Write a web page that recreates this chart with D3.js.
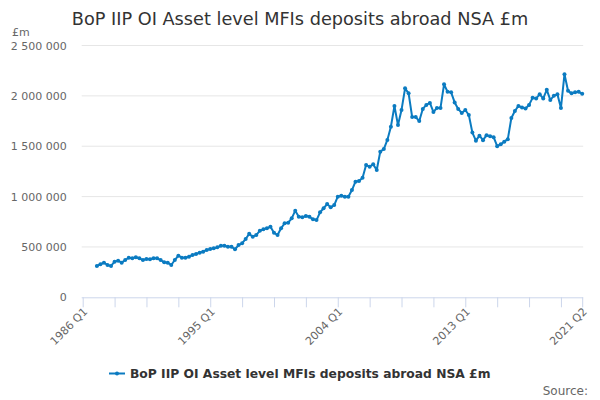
<!DOCTYPE html>
<html><head><meta charset="utf-8">
<script src="https://cdn.jsdelivr.net/npm/d3@7"></script>
<style>body{margin:0;background:#fff}svg{display:block;font-family:"DejaVu Sans",sans-serif}</style>
</head><body><svg id="c" width="600" height="400"></svg>
<script>
const titleText = "BoP IIP OI Asset level MFIs deposits abroad NSA £m";
const seriesName = "BoP IIP OI Asset level MFIs deposits abroad NSA £m";
const startYear = 1986, quarterCount = 142;
const categories = [];
for (let i = 0; i < quarterCount; i++) categories.push((startYear + Math.floor(i / 4)) + " Q" + (i % 4 + 1));
const values = [null,null,null,null,
311000,328000,344000,321000,311000,354000,364000,344000,370000,393000,
387000,397000,387000,370000,380000,377000,387000,387000,370000,347000,
344000,321000,370000,413000,393000,393000,403000,420000,430000,443000,
453000,470000,479000,486000,496000,512000,512000,502000,502000,477000,
519000,536000,579000,630000,602000,618000,661000,675000,685000,701000,
641000,618000,685000,735000,741000,784000,860000,800000,794000,807000,
800000,774000,767000,844000,884000,926000,893000,916000,999000,1009000,
999000,999000,1065000,1148000,1155000,1187000,1313000,1297000,1320000,1264000,
1446000,1472000,1562000,1694000,1899000,1710000,1860000,2075000,2025000,1790000,
1790000,1750000,1870000,1910000,1930000,1840000,1880000,1880000,2115000,2040000,
2035000,1935000,1870000,1830000,1860000,1810000,1635000,1555000,1605000,1560000,
1610000,1600000,1590000,1500000,1520000,1545000,1570000,1780000,1850000,1900000,
1885000,1875000,1910000,1980000,1975000,2015000,1975000,2060000,1960000,2000000,
2015000,1880000,2215000,2050000,2025000,2035000,2040000,2020000];
const yTicks = [0,500000,1000000,1500000,2000000,2500000];
const xTickLabels = ["1986 Q1","1995 Q1","2004 Q1","2013 Q1","2021 Q2"];
const tickEvery = 9;

const svg = d3.select("#c");
const L = 82.7, R = 582.2, T = 45.5, B = 297.3;
const x = d3.scalePoint().domain(categories).range([L, R]);
const y = d3.scaleLinear().domain([0, 2500000]).range([B, T]);
const fmt = v => d3.format(",")(v).replace(/,/g, " ");

svg.append("g").selectAll("line").data(yTicks.filter(d => d > 0)).join("line")
  .attr("x1", L - 1).attr("x2", R + 1).attr("y1", d => y(d)).attr("y2", d => y(d))
  .attr("stroke", "#e6e6e6").attr("stroke-width", 1);

const yAxis = d3.axisLeft(y).tickValues(yTicks).tickFormat(fmt).tickSize(0).tickPadding(16);
const gy = svg.append("g").attr("transform", `translate(${L},0)`).call(yAxis);
gy.select(".domain").remove();
gy.selectAll("text").attr("fill", "#666").attr("font-size", 11).attr("font-family", "DejaVu Sans");

const tickCats = categories.filter((d, i) => i % tickEvery === 0 || i === quarterCount - 1);
const xAxis = d3.axisBottom(x).tickValues(tickCats).tickSize(10)
  .tickFormat(d => xTickLabels.includes(d) ? d : "");
const gx = svg.append("g").attr("transform", `translate(0,${B})`).call(xAxis);
gx.select(".domain").attr("stroke", "#ccd6eb").attr("d", `M${L - 1},0.5H${R + 1}`);
gx.selectAll(".tick line").attr("stroke", "#ccd6eb");
gx.selectAll("text").attr("fill", "#666").attr("font-size", 11).attr("font-family", "DejaVu Sans")
  .attr("text-anchor", "end").attr("x", 0).attr("y", 0).attr("dy", 0)
  .attr("transform", "translate(5,15) rotate(-45)");

const line = d3.line().defined(d => d.v != null).x(d => x(d.c)).y(d => y(d.v));
const data = categories.map((c, i) => ({c, v: values[i]}));
const color = "#0b7bc1";
svg.append("path").datum(data).attr("d", line).attr("fill", "none")
  .attr("stroke", color).attr("stroke-width", 2).attr("stroke-linejoin", "round");
svg.append("g").selectAll("circle").data(data.filter(d => d.v != null)).join("circle")
  .attr("cx", d => x(d.c)).attr("cy", d => y(d.v)).attr("r", 2).attr("fill", color);

svg.append("text").attr("x", 300).attr("y", 25).attr("text-anchor", "middle")
  .attr("font-size", 17.7).attr("fill", "#333").text(titleText);
svg.append("text").attr("x", 12).attr("y", 36).attr("font-size", 11).attr("fill", "#666").text("£m");

const lg = svg.append("g");
lg.append("line").attr("x1", 109).attr("x2", 125).attr("y1", 373.5).attr("y2", 373.5).attr("stroke", color).attr("stroke-width", 2);
lg.append("circle").attr("cx", 117).attr("cy", 373.5).attr("r", 2).attr("fill", color);
lg.append("text").attr("x", 130).attr("y", 378).attr("font-size", 12.3).attr("font-weight", "bold").attr("fill", "#333").text(seriesName);

svg.append("text").attr("x", 588).attr("y", 395).attr("text-anchor", "end").attr("font-size", 12).attr("fill", "#666").text("Source:");
</script></body></html>
